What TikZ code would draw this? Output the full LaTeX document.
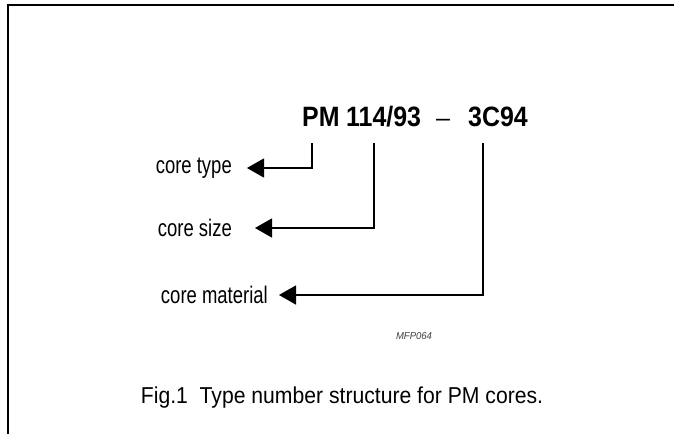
\documentclass[tikz,border=0pt]{standalone}
\usepackage{graphicx}
\usepackage{fontspec}
\setmainfont{Liberation Sans}
\usetikzlibrary{arrows.meta,positioning}
\newcommand{\cond}[2]{\scalebox{#1}[1]{#2}}
\tikzset{
  ttl/.style={inner sep=0pt,anchor=base west,font=\fontsize{28}{30}\selectfont\bfseries},
  lbl/.style={inner sep=0pt,font=\fontsize{24}{26}\selectfont},
  lead/.style={line width=1.4pt,-{Triangle[length=17pt,width=19pt]}},
}
\begin{document}
\begin{tikzpicture}[x=1pt,y=-1pt]
\useasboundingbox (0,0) rectangle (674,434);
% frame, open at bottom and right
\draw[line width=2.5pt] (8,434) -- (8,5) -- (674,5);

% type number
\node[ttl] (pm) at (302,126) {\cond{0.89}{PM}};
\node[ttl] (num) at (346,126) {\cond{0.89}{114/93}};
\node[inner sep=0pt,anchor=base west,font=\fontsize{25}{28}\selectfont] (dash) at (436,126) {–};
\node[ttl] (mat) at (468,126) {\cond{0.89}{3C94}};

% lead-outs
\coordinate (jtype) at (312,143);
\coordinate (jsize) at (374,143);
\coordinate (jmat) at (483,143);
\coordinate (ttype) at (247,168);
\coordinate (tsize) at (255,228);
\coordinate (tmat) at (279,295);
\node[lbl,left=15pt of ttype] (ctype) {\cond{0.77}{core type}};
\node[lbl,left=23pt of tsize] (csize) {\cond{0.77}{core size}};
\node[lbl,left=11pt of tmat] (cmat) {\cond{0.77}{core material}};
\draw[lead] (jtype) |- (ttype);
\draw[lead] (jsize) |- (tsize);
\draw[lead] (jmat) |- (tmat);

\node[font=\fontsize{10}{12}\selectfont\itshape,text=black!75] (code) at (414,336) {\cond{0.95}{MFP064}};
\node[font=\fontsize{23}{26}\selectfont] (cap) at (342,398) {\cond{0.92}{Fig.1\ \ Type number structure for PM cores.}};
\end{tikzpicture}
\end{document}
